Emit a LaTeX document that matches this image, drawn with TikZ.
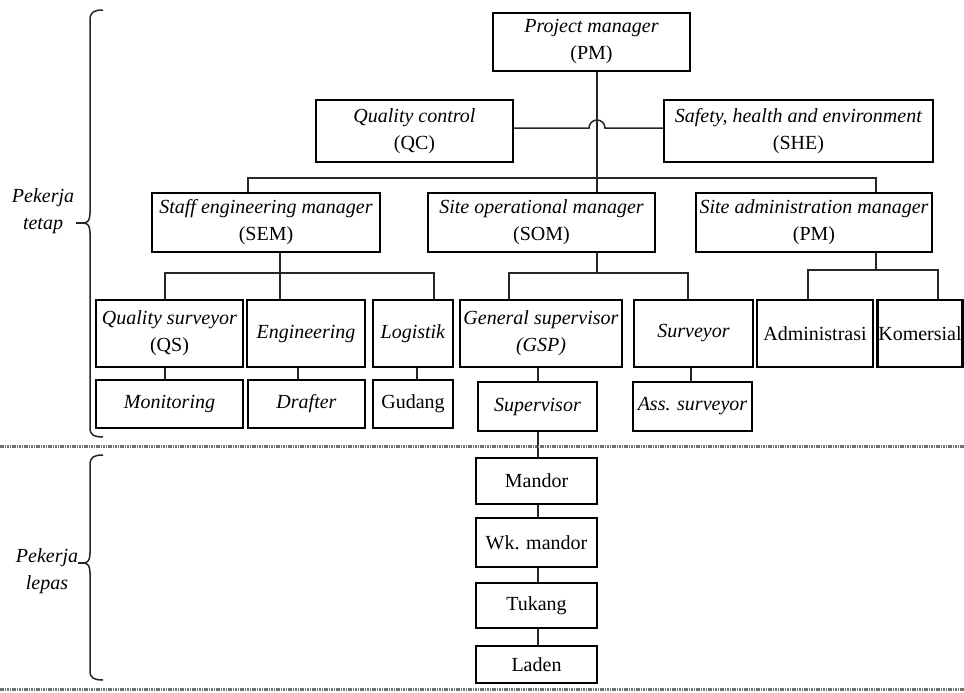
\documentclass[tikz,border=0pt]{standalone}
\usepackage{fontspec}
\setmainfont{Liberation Serif}
\begin{document}
\begin{tikzpicture}[x=0.5pt,y=-0.5pt,
  box/.style={draw=black, line width=1.1pt, inner sep=0pt, align=center,
              font=\fontsize{10}{13.5}\selectfont},
  wh/.style 2 args={minimum width=#1*0.5pt, minimum height=#2*0.5pt},
  conn/.style={line width=0.75pt, draw=black!85},
  sep/.style={line width=1.5pt, draw=black!55, dash pattern=on 0.8pt off 0.4pt},
  brace/.style={line width=0.75pt, draw=black!85},
  lbl/.style={align=center, font=\fontsize{10}{13.5}\selectfont\itshape}]
\useasboundingbox (0,0) rectangle (964,692);
\fill[white] (0,0) rectangle (964,692);

% level 0/1
\node[box, wh={197}{58}] (PM) at (591.5,42) {\textit{Project manager}\\(PM)};
\node[box, wh={197}{62}] (QC) at (414.5,131) {\textit{Quality control}\\(QC)};
\node[box, wh={269}{62}] (SHE) at (798.5,131) {\textit{Safety, health and environment}\\(SHE)};

% level 2
\node[box, wh={228}{59}] (SEM) at (266,222.5) {\textit{Staff engineering manager}\\(SEM)};
\node[box, wh={227}{59}] (SOM) at (541.5,222.5) {\textit{Site operational manager}\\(SOM)};
\node[box, wh={236}{59}] (SAM) at (814,222.5) {\textit{Site administration manager}\\(PM)};

% level 3
\node[box, wh={147}{67}] (QS) at (169.5,333.5) {\textit{Quality surveyor}\\(QS)};
\node[box, wh={118}{67}] (Eng) at (306,333.5) {\textit{Engineering}};
\node[box, wh={80}{67}] (Log) at (413,333.5) {\textit{Logistik}};
\node[box, wh={162}{67}] (GSP) at (541,333.5) {\textit{General supervisor}\\\textit{(GSP)}};
\node[box, wh={119}{67}] (Sur) at (693.5,333.5) {\textit{Surveyor}};
\node[box, wh={116}{67}] (Adm) at (815,333.5) {Administrasi};
\node[box, wh={85}{67}] (Kom) at (920,333.5) {Komersial};

% level 4
\node[box, wh={147}{48}] (Mon) at (169.5,404) {\textit{Monitoring}};
\node[box, wh={117}{48}] (Dra) at (306.5,404) {\textit{Drafter}};
\node[box, wh={80}{48}] (Gud) at (413,404) {Gudang};
\node[box, wh={119}{49}] (Sup) at (537.5,406.5) {\textit{Supervisor}};
\node[box, wh={119}{49}] (Ass) at (692.5,406.5) {\textit{Ass. surveyor}};

% pekerja lepas
\node[box, wh={121}{46}] (Man) at (536.5,481) {Mandor};
\node[box, wh={121}{49}] (Wk) at (536.5,542.5) {Wk. mandor};
\node[box, wh={121}{45}] (Tuk) at (536.5,605.5) {Tukang};
\node[box, wh={121}{37}] (Lad) at (536.5,664.5) {Laden};

% helper coordinates
\coordinate (spine) at (597,0);
\coordinate (jmp) at (597,128);
\coordinate (ybus1) at (0,178);
\coordinate (xsem) at (248,0);
\coordinate (xsam) at (876,0);
\coordinate (xsemd) at (280,0);
\coordinate (ybus2) at (0,273);
\coordinate (xqs) at (165,0);
\coordinate (xlog) at (434,0);
\coordinate (xgsp) at (509,0);
\coordinate (xsur) at (688,0);
\coordinate (ybus4) at (0,270);
\coordinate (xadm) at (808,0);
\coordinate (xkom) at (938,0);
\coordinate (xdra) at (298,0);
\coordinate (xgud) at (417,0);
\coordinate (xsup) at (538,0);
\coordinate (xass) at (691,0);

% connectors
\draw[conn] (PM.south -| spine) -- (SOM.north -| spine);
\draw[conn] (QC.east |- jmp) -- ([xshift=-4pt]jmp) arc[start angle=180, end angle=0, radius=4pt] -- (SHE.west |- jmp);
\draw[conn] (SEM.north -| xsem) |- (ybus1 -| xsam) -- (SAM.north -| xsam);

\draw[conn] (SEM.south -| xsemd) -- (Eng.north -| xsemd);
\draw[conn] (QS.north -| xqs) |- (ybus2 -| xlog) -- (Log.north -| xlog);

\draw[conn] (SOM.south -| spine) -- (ybus2 -| spine);
\draw[conn] (GSP.north -| xgsp) |- (ybus2 -| xsur) -- (Sur.north -| xsur);

\draw[conn] (SAM.south -| xsam) -- (ybus4 -| xsam);
\draw[conn] (Adm.north -| xadm) |- (ybus4 -| xkom) -- (Kom.north -| xkom);

\draw[conn] (QS.south -| xqs) -- (Mon.north -| xqs);
\draw[conn] (Eng.south -| xdra) -- (Dra.north -| xdra);
\draw[conn] (Log.south -| xgud) -- (Gud.north -| xgud);
\draw[conn] (GSP.south -| xsup) -- (Sup.north -| xsup);
\draw[conn] (Sur.south -| xass) -- (Ass.north -| xass);
\draw[conn] (Sup.south -| xsup) -- (Man.north -| xsup);
\draw[conn] (Man.south -| xsup) -- (Wk.north -| xsup);
\draw[conn] (Wk.south -| xsup) -- (Tuk.north -| xsup);
\draw[conn] (Tuk.south -| xsup) -- (Lad.north -| xsup);

% separators
\draw[sep] (0,446) -- (964,446);
\draw[sep] (0,689) -- (964,689);

% braces and labels
\node[lbl] (lab1) at (43,211) {Pekerja\\tetap};
\node[lbl] (lab2) at (47,571) {Pekerja\\lepas};
\draw[brace] (103,10) .. controls (94,10) and (90,12) .. (90,20) -- (90,213)
  .. controls (90,220) and (88,223) .. (83,223)
  .. controls (88,223) and (90,226) .. (90,233) -- (90,428)
  .. controls (90,435) and (94,437) .. (103,437);
\draw[brace] (76,223) -- (83,223);
\draw[brace] (103,455) .. controls (94,455) and (90,457) .. (90,465) -- (90,553)
  .. controls (90,560) and (88,563) .. (83,563)
  .. controls (88,563) and (90,566) .. (90,573) -- (90,671)
  .. controls (90,678) and (94,680) .. (103,680);
\draw[brace] (78,563) -- (83,563);
\end{tikzpicture}
\end{document}
